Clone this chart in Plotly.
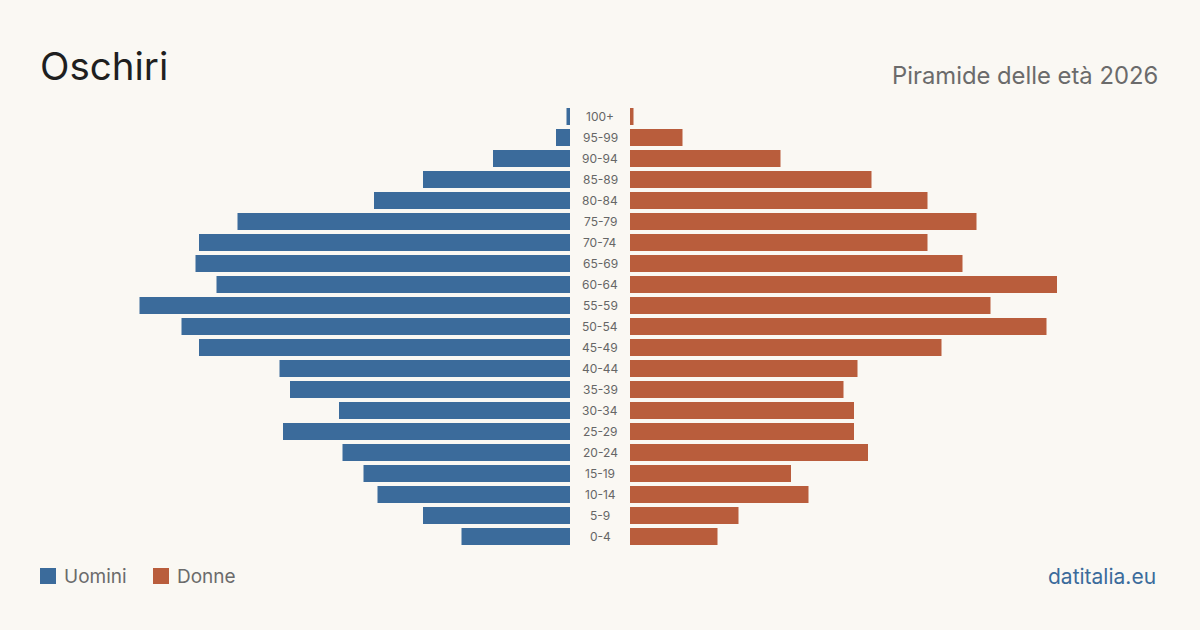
import plotly.graph_objects as go

ages = ["0-4", "5-9", "10-14", "15-19", "20-24", "25-29", "30-34", "35-39", "40-44",
        "45-49", "50-54", "55-59", "60-64", "65-69", "70-74", "75-79", "80-84",
        "85-89", "90-94", "95-99", "100+"]
men = [31, 42, 55, 59, 65, 82, 66, 80, 83, 106, 111, 123, 101, 107, 106, 95, 56, 42, 22, 4, 1]
women = [25, 31, 51, 46, 68, 64, 64, 61, 65, 89, 119, 103, 122, 95, 85, 99, 85, 69, 43, 15, 1]

title = "Oschiri"
subtitle = "Piramide delle età 2026"
legend_labels = ["Uomini", "Donne"]
source = "datitalia.eu"

BLUE = "#3b6b9b"
ORANGE = "#b95d3c"
BG = "#faf8f3"
FONT = "Inter, 'Noto Sans', sans-serif"

W, H = 1200, 630
T, B = 106, 83
PH = H - T - B
SCALE = 3.5  # px per person
vmax = 570 / SCALE


def py(ypx):
    return (H - B - ypx) / PH


def px(xpx):
    return xpx / W


fig = go.Figure()
fig.add_trace(go.Bar(y=ages, x=men, orientation="h", marker=dict(color=BLUE, line=dict(width=0)),
                     xaxis="x", yaxis="y", name=legend_labels[0], showlegend=False,
                     hoverinfo="x+y"))
fig.add_trace(go.Bar(y=ages, x=women, orientation="h", marker=dict(color=ORANGE, line=dict(width=0)),
                     xaxis="x2", yaxis="y", name=legend_labels[1], showlegend=False,
                     hoverinfo="x+y"))

annotations = []
for a in ages:
    annotations.append(dict(x=0.5, y=a, xref="paper", yref="y", text=a, showarrow=False,
                            font=dict(family=FONT, size=12, color="#666666"),
                            xanchor="center", yanchor="middle"))

annotations.append(dict(x=px(38), y=py(66), xref="paper", yref="paper", text=title, showarrow=False,
                        font=dict(family=FONT, size=38.5, color="#1f1f1f"), xanchor="left", yanchor="middle"))
annotations.append(dict(x=px(1160), y=py(76), xref="paper", yref="paper", text=subtitle, showarrow=False,
                        font=dict(family=FONT, size=23.8, color="#6b6b6b"), xanchor="right", yanchor="middle"))
annotations.append(dict(x=px(62), y=py(576), xref="paper", yref="paper", text=legend_labels[0], showarrow=False,
                        font=dict(family=FONT, size=19, color="#6b6b6b"), xanchor="left", yanchor="middle"))
annotations.append(dict(x=px(175), y=py(576), xref="paper", yref="paper", text=legend_labels[1], showarrow=False,
                        font=dict(family=FONT, size=19, color="#6b6b6b"), xanchor="left", yanchor="middle"))
annotations.append(dict(x=px(1158), y=py(576), xref="paper", yref="paper", text=source, showarrow=False,
                        font=dict(family=FONT, size=21, color=BLUE), xanchor="right", yanchor="middle"))

shapes = [
    dict(type="rect", xref="paper", yref="paper", x0=px(40), x1=px(56), y0=py(584), y1=py(568),
         fillcolor=BLUE, line=dict(width=0)),
    dict(type="rect", xref="paper", yref="paper", x0=px(153), x1=px(169), y0=py(584), y1=py(568),
         fillcolor=ORANGE, line=dict(width=0)),
]

fig.update_layout(
    width=W, height=H,
    margin=dict(l=0, r=0, t=T, b=B),
    paper_bgcolor=BG, plot_bgcolor=BG,
    bargap=4 / 21,
    xaxis=dict(domain=[0, 570 / W], range=[vmax, 0], visible=False, fixedrange=True),
    xaxis2=dict(domain=[630 / W, 1], range=[0, vmax], visible=False, fixedrange=True),
    yaxis=dict(categoryorder="array", categoryarray=ages, range=[-0.5, len(ages) - 0.5],
               visible=False, fixedrange=True),
    annotations=annotations,
    shapes=shapes,
    font=dict(family=FONT),
)

fig.write_html("out.html")
